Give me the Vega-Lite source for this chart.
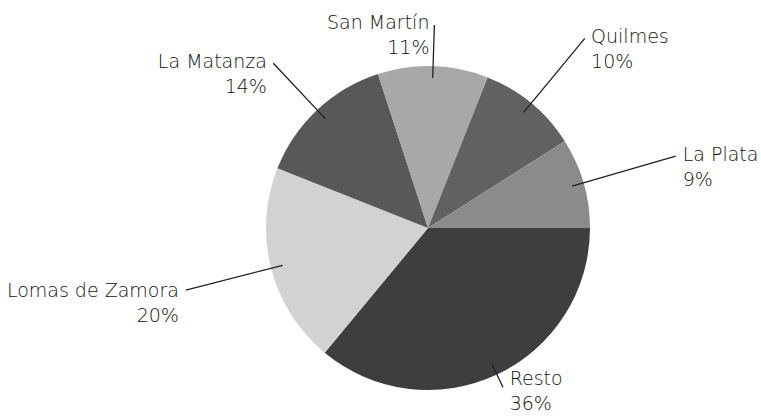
{
  "$schema": "https://vega.github.io/schema/vega-lite/v6.json",
  "width": 666,
  "height": 378,
  "autosize": "none",
  "padding": {"left": 95, "top": 39, "right": 0, "bottom": 0},
  "background": "white",
  "config": {"view": {"stroke": null}},
  "data": {
    "values": [
      {"region": "Resto", "share": 0.36},
      {"region": "Lomas de Zamora", "share": 0.20},
      {"region": "La Matanza", "share": 0.14},
      {"region": "San Martín", "share": 0.11},
      {"region": "Quilmes", "share": 0.10},
      {"region": "La Plata", "share": 0.09}
    ]
  },
  "transform": [{"window": [{"op": "row_number", "as": "idx"}]}],
  "encoding": {
    "theta": {"field": "share", "type": "quantitative", "stack": true, "scale": {"range": [1.5707963, 7.8539816]}},
    "order": {"field": "idx", "type": "quantitative"},
    "detail": {"field": "region", "type": "nominal"}
  },
  "layer": [
    {
      "mark": {"type": "arc", "outerRadius": 162},
      "encoding": {
        "color": {
          "field": "region", "type": "nominal", "legend": null,
          "scale": {
            "domain": ["Resto", "Lomas de Zamora", "La Matanza", "San Martín", "Quilmes", "La Plata"],
            "range": ["#3e3e3f", "#d1d2d3", "#58585a", "#a7a8aa", "#616163", "#8a8b8d"]
          }
        }
      }
    },
    {
      "mark": {
        "type": "arc", "filled": false, "stroke": "#231f20", "strokeWidth": 1.3,
        "padAngle": 2, "innerRadius": 150,
        "outerRadius": {"expr": "datum.region === 'Resto' ? 176 : datum.region === 'Lomas de Zamora' ? 250 : datum.region === 'La Matanza' ? 226 : datum.region === 'San Martín' ? 203 : datum.region === 'Quilmes' ? 246 : 258"}
      }
    },
    {
      "mark": {
        "type": "text", "font": "DejaVu Sans", "fontWeight": 200, "fontSize": 19, "color": "#111111", "baseline": "middle",
        "dy": {"expr": "datum.region === 'Resto' ? -12 : 0"},
        "dx": {"expr": "(datum.region === 'Resto' || datum.region === 'Quilmes' || datum.region === 'La Plata') ? 5 : -5"},
        "radius": {"expr": "datum.region === 'Resto' ? 180 : datum.region === 'Lomas de Zamora' ? 252 : datum.region === 'La Matanza' ? 228 : datum.region === 'San Martín' ? 205 : datum.region === 'Quilmes' ? 248 : 260"},
        "align": {"expr": "(datum.region === 'Resto' || datum.region === 'Quilmes' || datum.region === 'La Plata') ? 'left' : 'right'"}
      },
      "encoding": {"text": {"field": "region", "type": "nominal"}}
    },
    {
      "mark": {
        "type": "text", "font": "DejaVu Sans", "fontWeight": 200, "fontSize": 19, "color": "#111111", "baseline": "middle",
        "dy": {"expr": "datum.region === 'Resto' ? 13 : 25"},
        "dx": {"expr": "(datum.region === 'Resto' || datum.region === 'Quilmes' || datum.region === 'La Plata') ? 5 : -5"},
        "radius": {"expr": "datum.region === 'Resto' ? 180 : datum.region === 'Lomas de Zamora' ? 252 : datum.region === 'La Matanza' ? 228 : datum.region === 'San Martín' ? 205 : datum.region === 'Quilmes' ? 248 : 260"},
        "align": {"expr": "(datum.region === 'Resto' || datum.region === 'Quilmes' || datum.region === 'La Plata') ? 'left' : 'right'"}
      },
      "encoding": {"text": {"field": "share", "type": "quantitative", "format": ".0%"}}
    }
  ]
}
